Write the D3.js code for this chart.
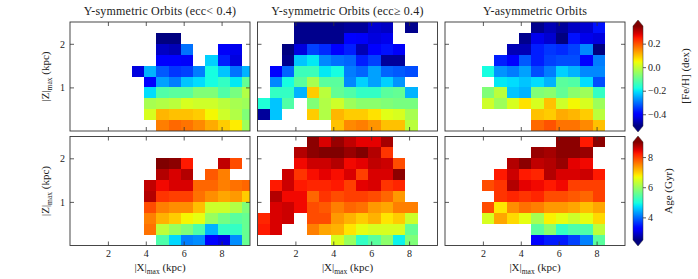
<!DOCTYPE html>
<html><head><meta charset="utf-8">
<script src="https://cdn.jsdelivr.net/npm/d3@7"></script>
<style>
body{margin:0;background:#fff}
svg{display:block}
text{font-family:"Liberation Serif","DejaVu Serif",serif;fill:#222}
</style>
</head><body>
<svg id="c" width="698" height="279"></svg>
<script>
const _ = null;
// bin edges (kpc)
const xEdges = [0,0.65,1.3,1.95,2.6,3.25,3.9,4.55,5.2,5.85,6.5,7.15,7.8,8.45,9.1,9.75];
const zEdges = [0,0.25,0.5,0.75,1,1.25,1.5,1.75,2,2.25,2.5];
const xTicks = [2,4,6,8];
const zTicks = [1,2];
const fehTicks = [-0.4,-0.2,0.0,0.2];
const ageTicks = [4,6,8];
const fehRange = [-0.5,0.35];
const ageRange = [2.5,9];
const titles = ["Y-symmetric Orbits (ecc< 0.4)","Y-symmetric Orbits (ecc\u2265 0.4)","Y-asymmetric Orbits"];

// rows listed from top (|Z| 2.25-2.5) to bottom (|Z| 0-0.25), 15 |X| bins each
const fehLowEcc = [
 [_,_,_,_,_,_,_,_,_,_,_,_,_,_,_],
 [_,_,_,_,_,_,_,-0.50,-0.50,_,_,_,_,_,_],
 [_,_,_,_,_,_,_,-0.45,-0.46,-0.30,_,_,-0.41,-0.42,_],
 [_,_,_,_,_,_,_,-0.40,-0.40,-0.41,_,-0.22,-0.37,-0.43,_],
 [_,_,_,_,_,-0.43,-0.245,-0.32,-0.35,-0.34,-0.29,-0.18,-0.23,-0.30,-0.245],
 [_,_,_,_,_,_,-0.40,-0.26,-0.29,-0.23,-0.21,-0.18,-0.15,-0.20,-0.10],
 [_,_,_,_,_,_,-0.21,-0.12,-0.11,-0.11,-0.07,-0.07,-0.12,-0.08,-0.02],
 [_,_,_,_,_,_,-0.03,-0.02,-0.01,0.02,0.01,0.01,-0.01,-0.03,-0.04],
 [_,_,_,_,_,_,0.02,0.11,0.10,0.10,0.09,0.05,0.01,-0.02,-0.07],
 [_,_,_,_,_,_,_,0.16,0.18,0.17,0.15,0.12,0.09,0.06,-0.04]
];
const fehHighEcc = [
 [_,_,_,-0.49,-0.49,-0.49,-0.49,-0.48,-0.48,-0.44,-0.45,_,-0.49,_,_],
 [_,_,_,-0.49,-0.49,-0.49,-0.49,-0.40,-0.41,-0.43,-0.42,_,_,_,_],
 [_,_,-0.50,-0.43,-0.34,-0.36,-0.40,-0.37,-0.46,-0.40,-0.38,-0.41,_,_,_],
 [_,_,-0.49,-0.23,-0.20,-0.28,-0.30,-0.31,-0.37,-0.34,-0.48,-0.48,_,_,_],
 [_,-0.40,-0.31,-0.14,-0.14,-0.20,-0.18,-0.29,-0.31,-0.26,-0.31,-0.32,-0.33,_,_],
 [_,-0.28,-0.18,-0.11,-0.03,-0.11,-0.11,-0.28,-0.22,-0.26,-0.22,-0.27,_,_,_],
 [_,-0.15,-0.15,-0.245,0.09,-0.01,-0.10,-0.12,-0.15,-0.15,-0.11,-0.10,-0.245,_,_],
 [-0.17,-0.23,-0.12,_,-0.07,-0.02,0.01,-0.04,-0.06,-0.06,-0.07,-0.08,-0.08,_,_],
 [-0.48,-0.23,_,_,0.09,-0.02,0.11,0.09,0.09,0.07,0.03,0.02,-0.03,_,_],
 [_,_,_,_,_,_,0.10,0.15,0.16,0.14,0.10,0.10,-0.01,_,_]
];
const fehAsym = [
 [_,_,_,_,_,_,_,-0.49,-0.46,-0.48,-0.45,-0.44,-0.38,_,_],
 [_,_,_,_,_,_,-0.49,-0.42,-0.44,-0.50,-0.38,-0.42,-0.43,_,_],
 [_,_,_,_,_,-0.46,-0.46,-0.37,-0.35,-0.36,-0.34,-0.28,-0.50,_,_],
 [_,_,_,_,-0.37,-0.40,-0.32,-0.37,-0.34,-0.33,-0.33,-0.40,-0.29,_,_],
 [_,_,_,-0.18,-0.27,-0.29,-0.26,-0.33,-0.29,-0.22,-0.245,-0.28,-0.28,_,_],
 [_,_,_,_,-0.20,-0.21,-0.23,-0.21,-0.245,-0.11,-0.12,-0.21,-0.33,_,_],
 [_,_,_,-0.07,-0.01,-0.23,-0.245,-0.07,-0.06,-0.10,-0.06,-0.04,-0.15,_,_],
 [_,_,_,0.01,-0.04,0.02,0.07,0.02,0.10,0.01,0.05,0.02,-0.04,_,_],
 [_,_,_,_,_,_,_,0.10,0.09,0.12,0.11,0.09,-0.01,_,_],
 [_,_,_,_,_,_,_,0.18,0.20,0.17,0.17,0.15,0.10,_,_]
];
const ageLowEcc = [
 [_,_,_,_,_,_,_,_,_,_,_,_,_,_,_],
 [_,_,_,_,_,_,_,_,_,_,_,_,_,_,_],
 [_,_,_,_,_,_,_,9.0,8.93,8.24,_,_,8.64,7.89,_],
 [_,_,_,_,_,_,_,8.71,8.50,8.71,_,7.80,7.54,_,_],
 [_,_,_,_,_,_,8.64,8.36,8.50,8.50,7.71,7.71,7.54,7.64,7.71],
 [_,_,_,_,_,_,8.71,8.06,7.98,7.98,7.64,7.44,7.27,7.36,7.01],
 [_,_,_,_,_,_,7.89,7.54,7.44,7.44,7.10,6.39,6.39,6.18,5.78],
 [_,_,_,_,_,_,7.54,7.19,7.01,6.72,6.59,5.98,5.68,5.48,5.58],
 [_,_,_,_,_,_,7.64,6.27,5.98,5.78,5.38,4.45,5.18,5.18,5.58],
 [_,_,_,_,_,_,_,5.38,4.69,4.13,4.21,3.25,3.07,4.21,5.58]
];
const ageHighEcc = [
 [_,_,_,_,8.93,8.50,8.86,8.64,8.43,8.43,8.79,_,_,_,_],
 [_,_,_,8.71,8.93,9.0,9.0,8.86,9.0,8.71,8.06,_,_,_,_],
 [_,_,_,8.36,8.57,8.57,8.71,8.36,8.43,8.64,8.57,7.89,_,_,_],
 [_,_,8.57,8.06,8.32,8.43,8.32,8.50,7.98,8.50,8.50,8.93,_,_,_],
 [_,8.24,8.57,8.24,8.16,8.16,8.24,7.98,8.43,8.50,8.06,8.16,_,_,_],
 [_,8.71,8.36,8.36,7.71,8.06,7.89,7.98,7.98,7.89,7.71,7.36,_,_,_],
 [_,8.50,8.57,8.36,7.89,7.80,7.54,7.71,7.64,7.36,7.27,7.54,7.54,_,_],
 [8.16,8.50,8.57,_,7.89,7.89,7.36,7.19,7.01,7.19,6.84,7.01,6.39,_,_],
 [8.24,8.50,_,_,7.54,7.27,7.19,6.84,6.59,6.47,6.47,6.47,5.58,_,_],
 [_,_,_,_,_,_,6.47,5.98,5.18,5.48,5.88,4.86,5.78,_,_]
];
const ageAsym = [
 [_,_,_,_,_,_,_,_,_,8.93,8.93,8.24,8.93,_,_],
 [_,_,_,_,_,_,_,8.86,8.79,8.93,8.93,8.86,_,_,_],
 [_,_,_,_,_,8.71,8.93,8.64,8.71,8.86,8.43,8.36,_,_,_],
 [_,_,_,_,8.24,8.57,8.24,8.16,8.71,8.50,8.50,8.57,8.24,_,_],
 [_,_,_,7.89,8.06,8.71,8.43,8.36,8.24,8.36,7.98,7.98,7.98,_,_],
 [_,_,_,_,8.06,8.16,8.06,8.16,7.89,7.89,7.80,7.71,7.98,_,_],
 [_,_,_,7.89,6.84,7.44,7.64,7.54,7.36,7.36,7.27,7.10,7.27,_,_],
 [_,_,_,6.47,7.27,6.92,6.59,6.08,6.75,6.59,6.39,6.59,6.92,_,_],
 [_,_,_,_,_,_,_,5.48,5.88,5.18,5.38,5.38,6.27,_,_],
 [_,_,_,_,_,_,_,3.25,3.48,3.48,3.72,4.13,5.48,_,_]
];

// matplotlib "jet"
const jr = d3.scaleLinear([0,0.35,0.66,0.89,1],[0,0,1,1,0.5]).clamp(true);
const jg = d3.scaleLinear([0,0.125,0.375,0.64,0.91,1],[0,0,1,1,0,0]).clamp(true);
const jb = d3.scaleLinear([0,0.11,0.34,0.65,1],[0.5,1,1,0,0]).clamp(true);
const jet = t => d3.rgb(255*jr(t),255*jg(t),255*jb(t)).formatHex();
const fehT = d3.scaleLinear(fehRange,[0,1]).clamp(true);
const ageT = d3.scaleLinear(ageRange,[0,1]).clamp(true);

const svg = d3.select("#c");
const W = 180, H = 109;
const lefts = [70,257.5,445];
const tops = [22,136.5];
const frame = "#333";

const panels = [
 {data:fehLowEcc,c:0,r:0,t:fehT},{data:fehHighEcc,c:1,r:0,t:fehT},{data:fehAsym,c:2,r:0,t:fehT},
 {data:ageLowEcc,c:0,r:1,t:ageT},{data:ageHighEcc,c:1,r:1,t:ageT},{data:ageAsym,c:2,r:1,t:ageT}
];

panels.forEach((p,i)=>{
  const L = lefts[p.c], T = tops[p.r];
  const x = d3.scaleLinear([0,9.5],[L,L+W]);
  const y = d3.scaleLinear([0,2.5],[T+H,T]);
  const cid = "clip"+i;
  svg.append("clipPath").attr("id",cid).append("rect").attr("x",L).attr("y",T).attr("width",W).attr("height",H);
  const g = svg.append("g").attr("clip-path",`url(#${cid})`);
  const cells = [];
  p.data.forEach((row,ri)=>{
    const zi = p.data.length-1-ri;
    row.forEach((v,ci)=>{ if(v!==null) cells.push({v,zi,ci}); });
  });
  g.selectAll("rect").data(cells).join("rect")
    .attr("x",d=>x(xEdges[d.ci]))
    .attr("width",d=>x(xEdges[d.ci+1])-x(xEdges[d.ci]))
    .attr("y",d=>y(zEdges[d.zi+1]))
    .attr("height",d=>y(zEdges[d.zi])-y(zEdges[d.zi+1]))
    .attr("fill",d=>jet(p.t(d.v)))
    .attr("shape-rendering","crispEdges");

  const style = ax => {
    ax.select(".domain").remove();
    ax.selectAll(".tick line").attr("stroke",frame).attr("stroke-width",0.8);
    ax.selectAll(".tick text").attr("font-family","Liberation Serif, serif").attr("font-size",10).attr("fill","#222");
  };
  svg.append("g").attr("transform",`translate(0,${T+H})`)
    .call(d3.axisBottom(x).tickValues(xTicks).tickSize(-4).tickPadding(4).tickFormat(p.r===1?d3.format("d"):()=>""))
    .call(style);
  svg.append("g").attr("transform",`translate(0,${T})`)
    .call(d3.axisTop(x).tickValues(xTicks).tickSize(-4).tickFormat(()=>""))
    .call(style);
  svg.append("g").attr("transform",`translate(${L},0)`)
    .call(d3.axisLeft(y).tickValues(zTicks).tickSize(-4).tickPadding(5).tickFormat(p.c===0?d3.format("d"):()=>""))
    .call(style);
  svg.append("g").attr("transform",`translate(${L+W},0)`)
    .call(d3.axisRight(y).tickValues(zTicks).tickSize(-4).tickFormat(()=>""))
    .call(style);
  svg.append("rect").attr("x",L).attr("y",T).attr("width",W).attr("height",H)
    .attr("fill","none").attr("stroke",frame).attr("stroke-width",0.9);

  if(p.r===0){
    svg.append("text").attr("x",L+W/2).attr("y",14.5).attr("text-anchor","middle")
      .attr("font-size",12).attr("letter-spacing",0.2).text(titles[p.c]);
  } else {
    const t = svg.append("text").attr("x",L+W/2).attr("y",271).attr("text-anchor","middle").attr("font-size",11);
    t.append("tspan").text("|X|");
    t.append("tspan").attr("font-size",7.5).attr("dy",2.5).text("max");
    t.append("tspan").attr("dy",-2.5).text(" (kpc)");
  }
  if(p.c===0){
    const t = svg.append("text").attr("transform",`translate(49,${T+H/2}) rotate(-90)`).attr("text-anchor","middle").attr("font-size",11);
    t.append("tspan").text("|Z|");
    t.append("tspan").attr("font-size",7.5).attr("dy",2.5).text("max");
    t.append("tspan").attr("dy",-2.5).text(" (kpc)");
  }
});

// colour bars
const defs = svg.append("defs");
const grad = defs.append("linearGradient").attr("id","jetgrad").attr("x1",0).attr("y1",1).attr("x2",0).attr("y2",0);
d3.range(0,1.0001,0.02).forEach(s=>grad.append("stop").attr("offset",s).attr("stop-color",jet(s)));

function colorbar(range, ticks, fmt, top, bot, label, labelX){
  const cx0 = 633, cx1 = 643, ext = 6;
  const s = d3.scaleLinear(range,[bot,top]);
  const g = svg.append("g");
  g.append("rect").attr("x",cx0).attr("y",top).attr("width",cx1-cx0).attr("height",bot-top).attr("fill","url(#jetgrad)");
  g.append("path").attr("d",`M${cx0},${top}L${(cx0+cx1)/2},${top-ext}L${cx1},${top}Z`).attr("fill",jet(1));
  g.append("path").attr("d",`M${cx0},${bot}L${(cx0+cx1)/2},${bot+ext}L${cx1},${bot}Z`).attr("fill",jet(0));
  g.append("path").attr("d",`M${cx0},${top}L${(cx0+cx1)/2},${top-ext}L${cx1},${top}L${cx1},${bot}L${(cx0+cx1)/2},${bot+ext}L${cx0},${bot}Z`)
    .attr("fill","none").attr("stroke","#333").attr("stroke-width",0.5);
  const ax = svg.append("g").attr("transform",`translate(${cx1},0)`)
    .call(d3.axisRight(s).tickValues(ticks).tickSize(3).tickPadding(2).tickFormat(fmt));
  ax.select(".domain").remove();
  ax.selectAll(".tick line").attr("stroke","#333").attr("stroke-width",0.8);
  ax.selectAll(".tick text").attr("font-family","Liberation Serif, serif").attr("font-size",10).attr("fill","#222");
  svg.append("text").attr("transform",`translate(${labelX},${(top+bot)/2}) rotate(-90)`)
    .attr("text-anchor","middle").attr("font-size",11).text(label);
}
colorbar(fehRange, fehTicks, d3.format(".1f"), 26, 126, "[Fe/H] (dex)", 689);
colorbar(ageRange, ageTicks, d3.format("d"), 142, 240, "Age (Gyr)", 672);
</script>
</body></html>
